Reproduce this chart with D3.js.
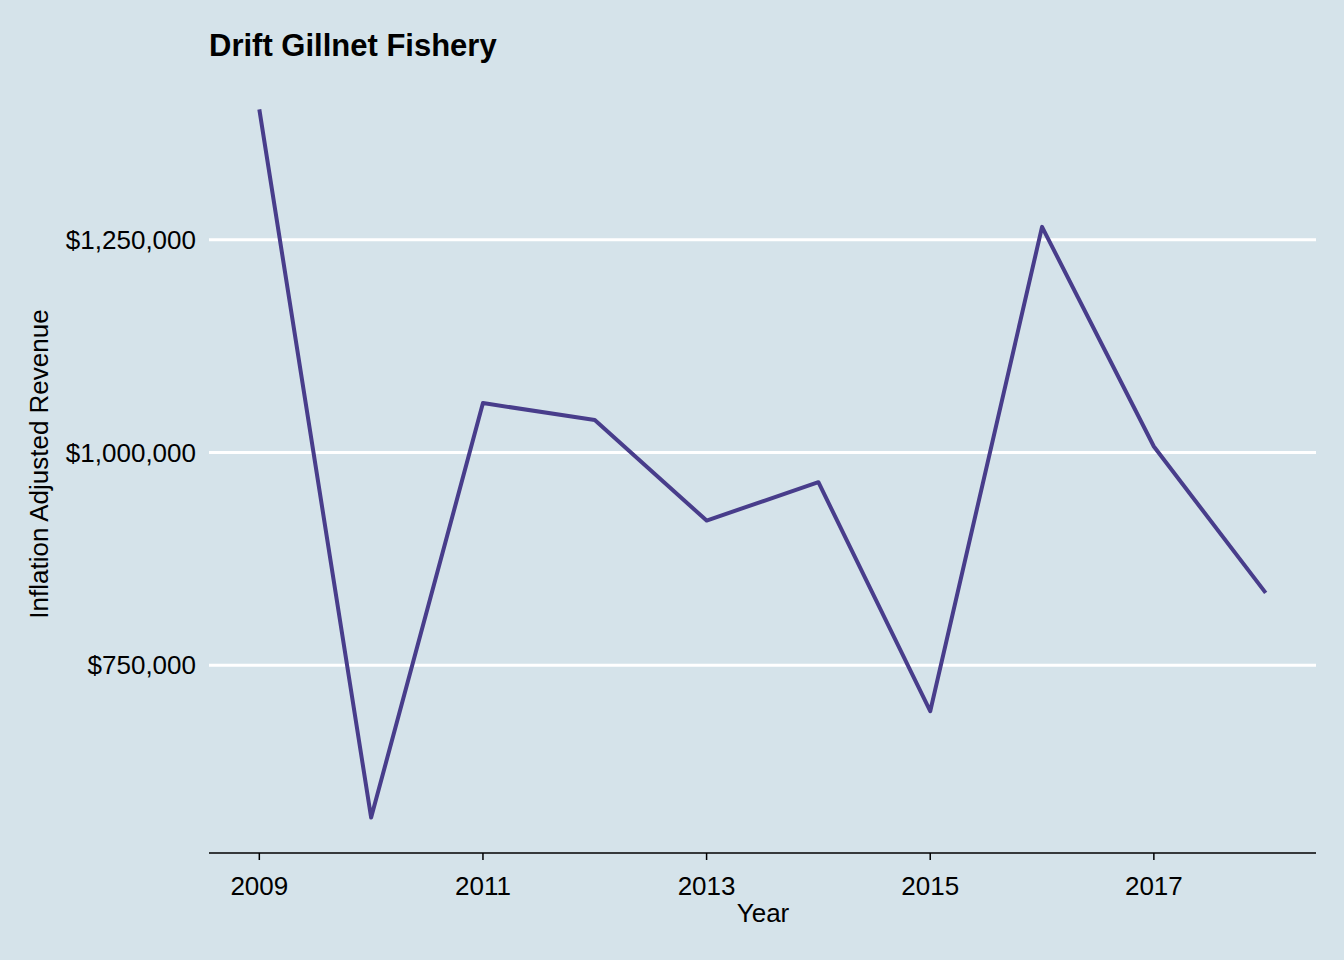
<!DOCTYPE html>
<html><head><meta charset="utf-8">
<script src="https://cdn.jsdelivr.net/npm/d3@7"></script>
<style>
body{margin:0;background:#d5e3ea;}
svg{display:block;font-family:"Liberation Sans",Arial,sans-serif;}
</style></head><body>
<script>
const years = [2009, 2010, 2011, 2012, 2013, 2014, 2015, 2016, 2017, 2018];
const revenue = [1403000, 571000, 1058000, 1038000, 920000, 965000, 696000, 1265000, 1007000, 835000];
const yTicks = [750000, 1000000, 1250000];
const xTicks = [2009, 2011, 2013, 2015, 2017];

const width = 1344, height = 960;
const margin = { left: 209, right: 28, top: 74, bottom: 107 };
const svg = d3.select("body").append("svg").attr("width", width).attr("height", height);
svg.append("rect").attr("width", width).attr("height", height).attr("fill", "#d5e3ea");

const yMin = d3.min(revenue), yMax = d3.max(revenue), pad = (yMax - yMin) * 0.05;
const x = d3.scaleLinear().domain([2009 - 0.45, 2018 + 0.45]).range([margin.left, width - margin.right]);
const y = d3.scaleLinear().domain([yMin - pad, yMax + pad]).range([height - margin.bottom, margin.top]);

svg.append("g").selectAll("line").data(yTicks).enter().append("line")
  .attr("x1", margin.left).attr("x2", width - margin.right)
  .attr("y1", d => y(d)).attr("y2", d => y(d))
  .attr("stroke", "#fff").attr("stroke-width", 3);

const fmt = d => "$" + d3.format(",")(d);
svg.append("g").selectAll("text").data(yTicks).enter().append("text")
  .attr("x", margin.left - 13).attr("y", d => y(d)).attr("dy", "0.35em")
  .attr("text-anchor", "end").attr("font-size", 26).attr("fill", "#000").text(fmt);

const base = height - margin.bottom;
svg.append("line").attr("x1", margin.left).attr("x2", width - margin.right)
  .attr("y1", base).attr("y2", base).attr("stroke", "#000").attr("stroke-width", 1.5);
svg.append("g").selectAll("line").data(xTicks).enter().append("line")
  .attr("x1", d => x(d)).attr("x2", d => x(d)).attr("y1", base).attr("y2", base + 7)
  .attr("stroke", "#000").attr("stroke-width", 1.5);
svg.append("g").selectAll("text").data(xTicks).enter().append("text")
  .attr("x", d => x(d)).attr("y", base + 42).attr("text-anchor", "middle")
  .attr("font-size", 26).attr("fill", "#000").text(d => d);

const line = d3.line().x((d, i) => x(years[i])).y(d => y(d));
svg.append("path").attr("d", line(revenue)).attr("fill", "none")
  .attr("stroke", "#483d8b").attr("stroke-width", 4).attr("stroke-linejoin", "round");

svg.append("text").attr("x", 763).attr("y", 922).attr("text-anchor", "middle")
  .attr("font-size", 26).text("Year");
svg.append("text").attr("transform", "translate(48,464) rotate(-90)").attr("text-anchor", "middle")
  .attr("font-size", 26).text("Inflation Adjusted Revenue");
svg.append("text").attr("x", 209).attr("y", 56).attr("font-size", 31).attr("font-weight", "bold")
  .text("Drift Gillnet Fishery");
</script>
</body></html>
